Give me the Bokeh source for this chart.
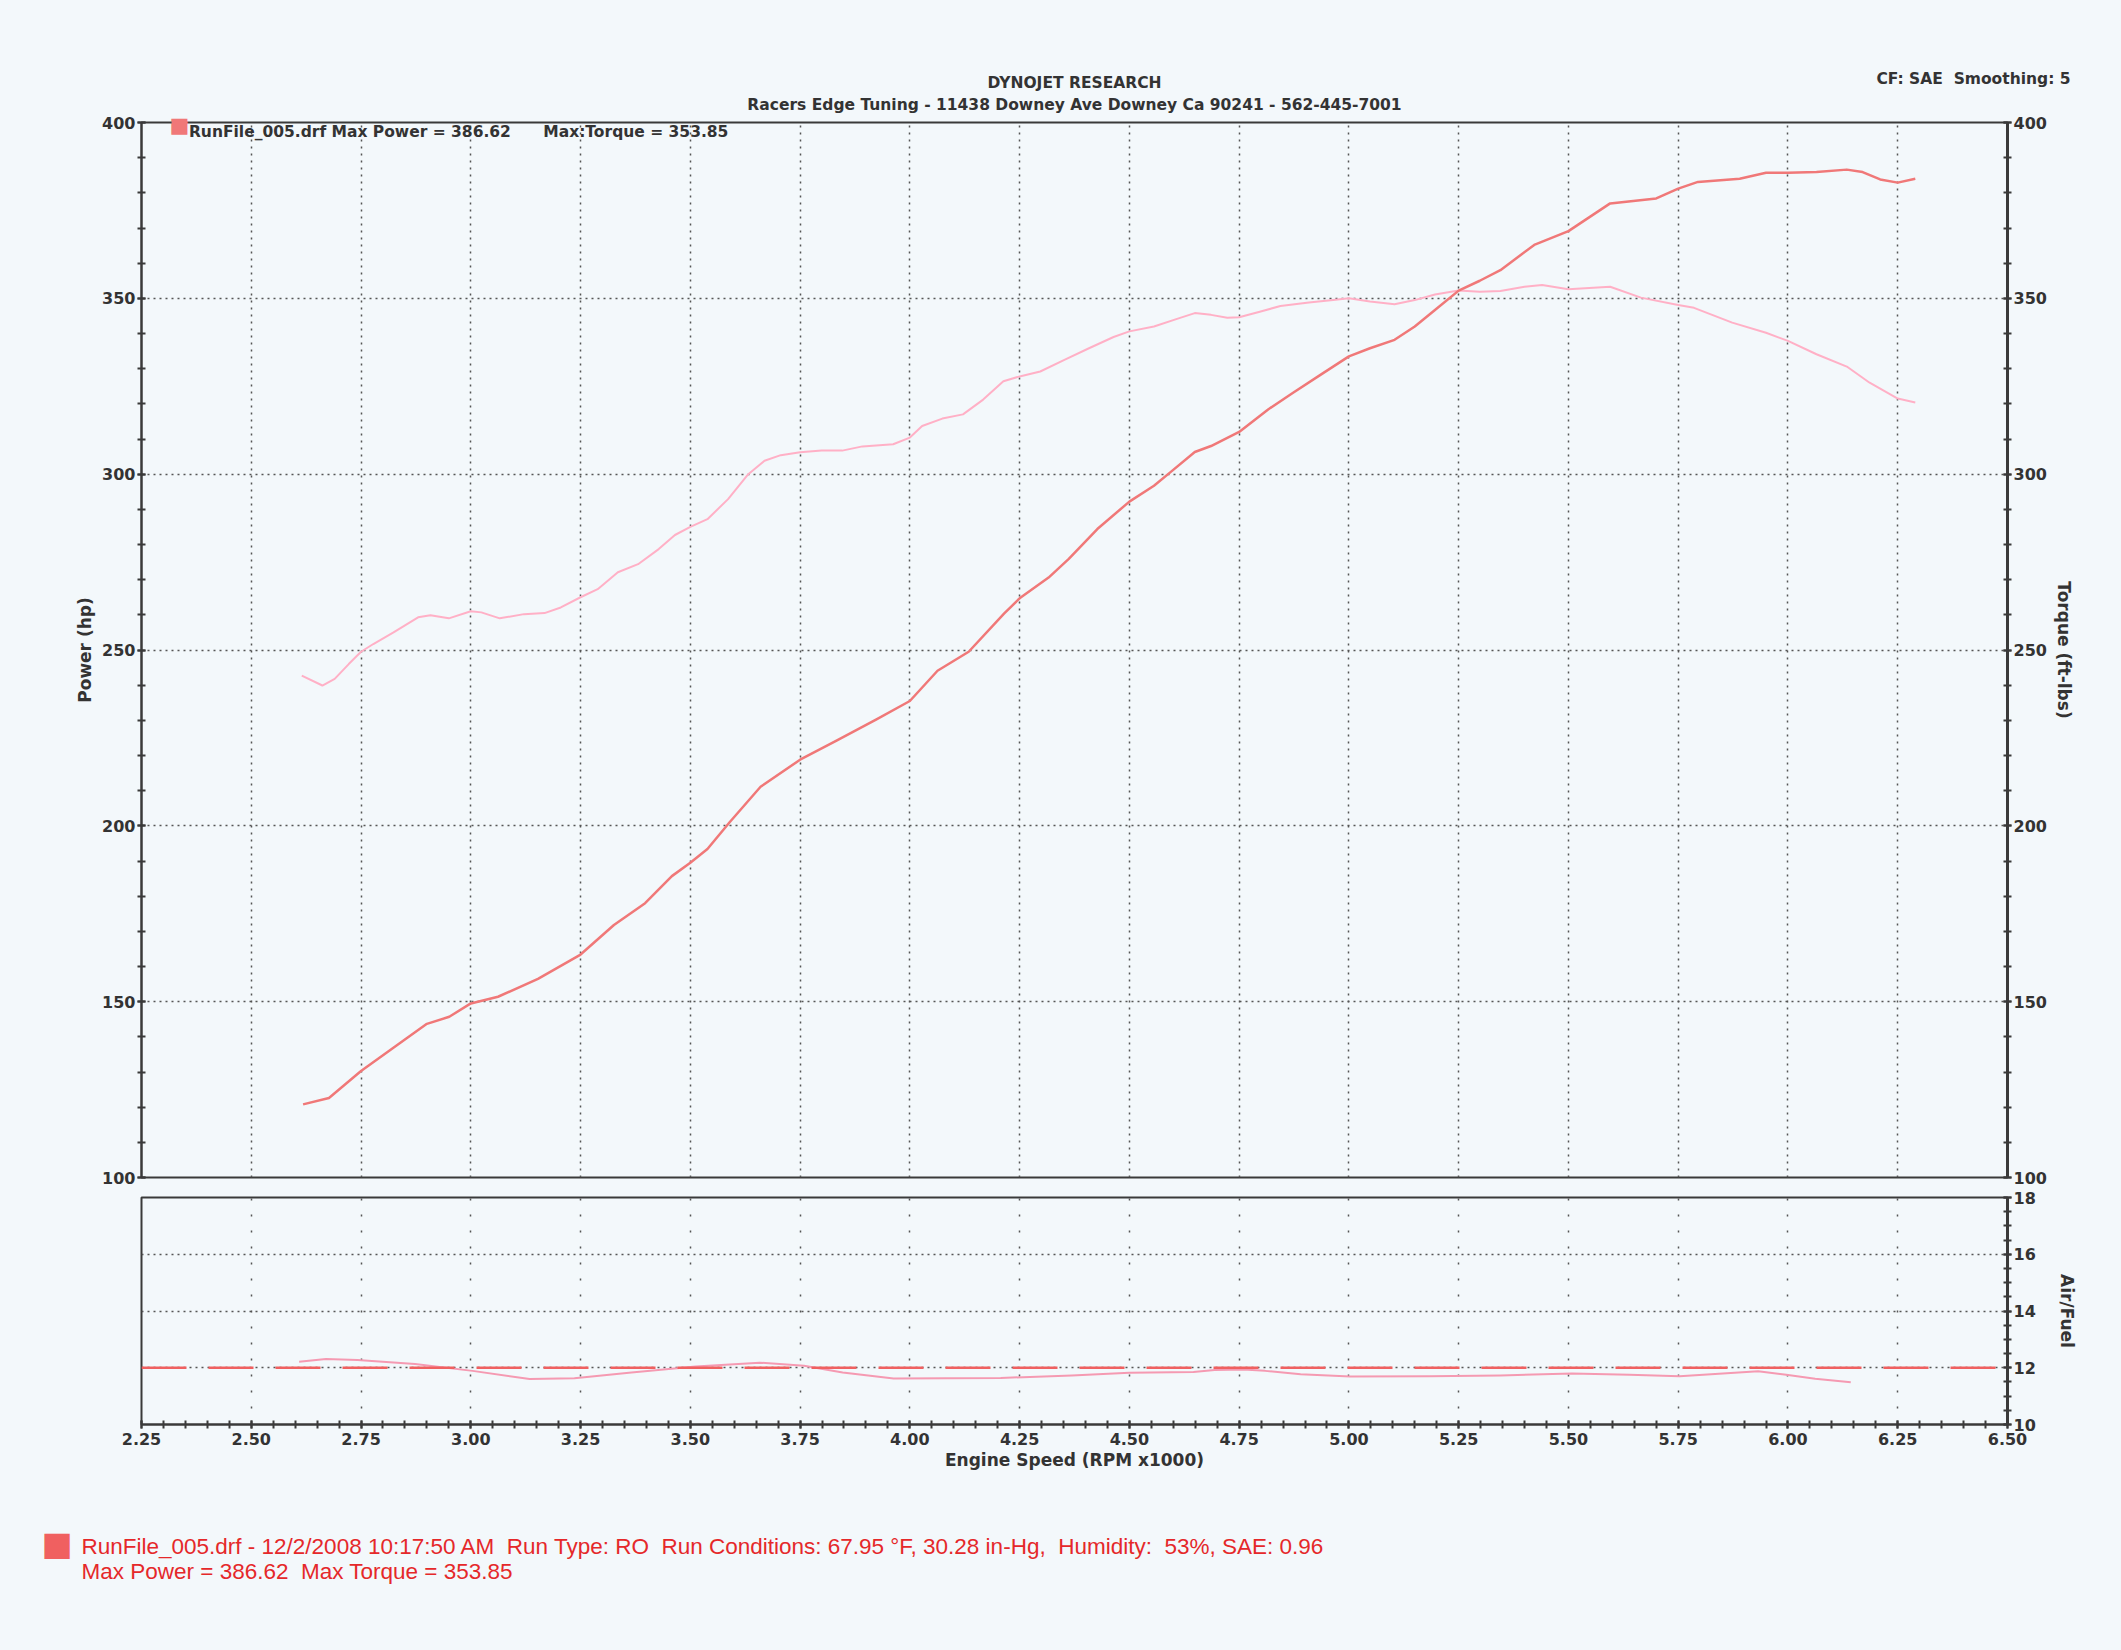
from bokeh.plotting import figure
from bokeh.models import (Range1d, LinearAxis, SingleIntervalTicker, Label, Span,
                          PrintfTickFormatter)
from bokeh.layouts import column
from bokeh.embed import file_html
from bokeh.resources import INLINE

# ---------------- data ----------------
power_rpm = [2.618, 2.677, 2.75, 2.819, 2.90, 2.951, 3.00, 3.062, 3.153, 3.25, 3.326, 3.397, 3.458, 3.50,
             3.539, 3.59, 3.66, 3.75, 3.833, 3.924, 4.00, 4.063, 4.134, 4.215, 4.25, 4.316, 4.362, 4.427,
             4.50, 4.556, 4.593, 4.649, 4.686, 4.75, 4.816, 4.872, 4.936, 5.00, 5.048, 5.104, 5.15, 5.196,
             5.25, 5.298, 5.345, 5.422, 5.50, 5.595, 5.70, 5.75, 5.795, 5.89, 5.95, 6.00, 6.065, 6.134,
             6.17, 6.21, 6.25, 6.29]
power_hp = [120.8, 122.6, 130.3, 136.5, 143.7, 145.7, 149.5, 151.4, 156.5, 163.4, 171.8, 178.0, 185.7, 189.5,
            193.4, 201.1, 211.1, 218.8, 224.2, 230.3, 235.5, 244.1, 249.5, 260.4, 264.7, 270.6, 275.9, 284.4,
            292.2, 296.7, 300.5, 306.3, 308.0, 312.0, 318.4, 323.1, 328.3, 333.5, 335.8, 338.2, 342.0, 346.7,
            352.2, 355.0, 358.0, 365.2, 369.1, 377.0, 378.4, 381.2, 383.1, 384.0, 385.7, 385.7, 385.9, 386.6,
            385.9, 383.8, 382.9, 384.0]

torque_rpm = [2.615, 2.662, 2.69, 2.722, 2.75, 2.778, 2.824, 2.88, 2.908, 2.95, 3.00, 3.024, 3.066, 3.121,
              3.168, 3.205, 3.25, 3.289, 3.335, 3.381, 3.428, 3.465, 3.50, 3.539, 3.586, 3.632, 3.669, 3.706,
              3.75, 3.799, 3.846, 3.892, 3.962, 4.00, 4.028, 4.074, 4.121, 4.167, 4.213, 4.25, 4.297, 4.352,
              4.408, 4.464, 4.50, 4.556, 4.612, 4.649, 4.686, 4.723, 4.75, 4.797, 4.844, 4.909, 4.964, 5.00,
              5.048, 5.104, 5.15, 5.196, 5.25, 5.298, 5.345, 5.40, 5.44, 5.50, 5.595, 5.665, 5.75, 5.786,
              5.873, 5.95, 6.00, 6.065, 6.134, 6.186, 6.25, 6.29]
torque_ftlb = [242.7, 239.9, 241.8, 246.0, 249.5, 251.7, 255.0, 259.3, 259.9, 259.0, 261.0, 260.7, 259.0, 260.2,
               260.5, 262.1, 265.0, 267.3, 272.1, 274.4, 278.7, 282.7, 285.0, 287.2, 292.9, 300.0, 303.8, 305.4,
               306.2, 306.7, 306.7, 307.9, 308.5, 310.4, 313.7, 315.8, 317.0, 321.2, 326.4, 327.8, 329.2, 332.5,
               335.8, 339.0, 340.6, 342.0, 344.3, 345.8, 345.3, 344.5, 344.6, 346.2, 347.8, 348.8, 349.5, 350.0,
               349.1, 348.3, 349.5, 351.1, 352.2, 351.9, 352.1, 353.3, 353.8, 352.6, 353.3, 350.2, 348.1, 347.3,
               343.1, 340.2, 337.9, 334.1, 330.6, 326.0, 321.5, 320.4]

afr_rpm = [2.609, 2.67, 2.742, 2.873, 3.004, 3.134, 3.236, 3.366, 3.512, 3.658, 3.759, 3.847, 3.963, 4.207,
           4.369, 4.50, 4.646, 4.694, 4.76, 4.809, 4.89, 5.003, 5.183, 5.345, 5.508, 5.639, 5.753, 5.834,
           5.932, 5.996, 6.062, 6.143]
afr_value = [12.21, 12.31, 12.27, 12.13, 11.89, 11.60, 11.63, 11.83, 12.04, 12.18, 12.07, 11.83, 11.62, 11.64,
             11.73, 11.82, 11.85, 11.92, 11.94, 11.89, 11.77, 11.69, 11.70, 11.73, 11.80, 11.75, 11.70, 11.78,
             11.88, 11.75, 11.61, 11.49]
afr_target = 12.0

NB = "\u00a0"
SWATCH = "\u25a0"
title_line1 = "DYNOJET RESEARCH"
title_line2 = "Racers Edge Tuning - 11438 Downey Ave Downey Ca 90241 - 562-445-7001"
corner_text = "CF: SAE" + NB + " Smoothing: 5"
legend_text = "RunFile_005.drf Max Power = 386.62" + NB * 5 + " Max:Torque = 353.85"
footer_line1 = ("RunFile_005.drf - 12/2/2008 10:17:50 AM" + NB + " Run Type: RO" + NB + " Run Conditions: 67.95 \u00b0F, "
                "30.28 in-Hg," + NB + " Humidity:" + NB + " 53%, SAE: 0.96")
footer_line2 = "Max Power = 386.62" + NB + " Max Torque = 353.85"

# ---------------- style ----------------
BG = "#f3f8fb"
FONT = "DejaVu Sans"
AX = "#3a3a3a"
TXT = "#333333"
GRID = "#555555"
POWER_C = "#f07878"
TORQUE_C = "#ffb0c6"
AFR_C = "#f59ab2"
RED = "#e5282a"
W = 2113
LB, RB = 141, 106

x_range = Range1d(2.25, 6.50)


def style_axis(ax):
    ax.axis_line_color = AX
    ax.axis_line_width = 2
    ax.major_tick_line_color = AX
    ax.minor_tick_line_color = AX
    ax.major_tick_line_width = 2
    ax.minor_tick_line_width = 2
    ax.major_tick_in = 4
    ax.major_tick_out = 4
    ax.minor_tick_in = 4
    ax.minor_tick_out = 4
    ax.major_label_text_font = FONT
    ax.major_label_text_font_style = "bold"
    ax.major_label_text_font_size = "16px"
    ax.major_label_text_color = TXT
    ax.major_label_standoff = 2
    ax.axis_label_text_font = FONT
    ax.axis_label_text_font_style = "bold"
    ax.axis_label_text_font_size = "17px"
    ax.axis_label_text_color = TXT


def hdr_label(x, y, text, align):
    return Label(x=x, y=y, text=text, text_align=align, text_baseline="middle",
                 text_font=FONT, text_font_style="bold", text_font_size="15.5px", text_color=TXT)


# ---------------- main figure ----------------
p1 = figure(width=W, height=1187, x_range=x_range, y_range=Range1d(100, 400),
            output_backend="svg", toolbar_location=None,
            min_border_left=LB, min_border_right=RB, min_border_top=122, min_border_bottom=10,
            background_fill_color=BG, border_fill_color=BG)
p1.extra_y_ranges = {"tq": Range1d(100, 400)}
p1.outline_line_color = AX
p1.outline_line_width = 2
p1.xaxis.visible = False

p1.yaxis.ticker = SingleIntervalTicker(interval=50, num_minor_ticks=5)
p1.yaxis.axis_label = "Power (hp)"
style_axis(p1.yaxis[0])
p1.yaxis.axis_label_standoff = 4

rax = LinearAxis(y_range_name="tq", ticker=SingleIntervalTicker(interval=50, num_minor_ticks=5),
                 axis_label="Torque (ft-lbs)")
style_axis(rax)
rax.axis_line_width = 3
rax.axis_label_standoff = 4
p1.add_layout(rax, "right")

p1.xgrid.ticker = SingleIntervalTicker(interval=0.25)
p1.xgrid.grid_line_color = GRID
p1.xgrid.grid_line_dash = "2 5"
p1.xgrid.grid_line_width = 1.5
p1.ygrid.grid_line_color = GRID
p1.ygrid.grid_line_dash = "2 4"
p1.ygrid.grid_line_width = 1.5

p1.line(torque_rpm, torque_ftlb, y_range_name="tq", line_color=TORQUE_C, line_width=2, line_join="round")
p1.line(power_rpm, power_hp, line_color=POWER_C, line_width=2.5, line_join="round")

# header texts (side panel, so they are not clipped to the frame)
p1.add_layout(hdr_label(4.375, 411.2, title_line1, "center"), "above")
p1.add_layout(hdr_label(4.375, 405.1, title_line2, "center"), "above")
p1.add_layout(hdr_label(6.6435, 412.4, corner_text, "right"), "above")

p1.add_layout(Label(x=2.358, y=397.4, text=legend_text, text_align="left", text_baseline="middle",
                    text_font=FONT, text_font_style="bold", text_font_size="15.5px", text_color=TXT))
p1.add_layout(Label(x=2.3366, y=399.15, text=SWATCH, text_align="center", text_baseline="middle",
                    text_font=FONT, text_font_size="21px", text_color=POWER_C), "above")

# ---------------- air/fuel figure ----------------
p2 = figure(width=W, height=413, x_range=x_range, y_range=Range1d(10, 18),
            output_backend="svg", toolbar_location=None, y_axis_location="right",
            min_border_left=LB, min_border_right=RB, min_border_top=10, min_border_bottom=176,
            background_fill_color=BG, border_fill_color=BG)
p2.outline_line_color = AX
p2.outline_line_width = 2

p2.xaxis.ticker = SingleIntervalTicker(interval=0.25, num_minor_ticks=5)
p2.xaxis.formatter = PrintfTickFormatter(format="%.2f")
p2.xaxis.axis_label = "Engine Speed (RPM x1000)"
style_axis(p2.xaxis[0])
p2.xaxis.major_label_standoff = 4
p2.xaxis.axis_label_standoff = 2

p2.yaxis.ticker = SingleIntervalTicker(interval=2, num_minor_ticks=4)
p2.yaxis.axis_label = "Air/Fuel"
style_axis(p2.yaxis[0])
p2.yaxis.axis_line_width = 3
p2.yaxis.axis_label_standoff = 18

p2.xgrid.ticker = SingleIntervalTicker(interval=0.25)
p2.xgrid.grid_line_color = GRID
p2.xgrid.grid_line_dash = "2 14"
p2.xgrid.grid_line_width = 1.5
p2.ygrid.grid_line_color = GRID
p2.ygrid.grid_line_dash = "2 4"
p2.ygrid.grid_line_width = 1.5

p2.add_layout(Span(location=afr_target, dimension="width", line_color="#f06060",
                   line_width=2.5, line_dash="45 22"))
p2.line(afr_rpm, afr_value, line_color=AFR_C, line_width=2, line_join="round")

# footer (side panel below)
p2.add_layout(Label(x=2.1133, y=5.70, text=footer_line1, text_align="left", text_baseline="middle",
                    text_font="Liberation Sans", text_font_size="22.5px", text_color=RED), "below")
p2.add_layout(Label(x=2.1133, y=4.82, text=footer_line2, text_align="left", text_baseline="middle",
                    text_font="Liberation Sans", text_font_size="22.5px", text_color=RED), "below")
p2.add_layout(Label(x=2.0575, y=5.80, text=SWATCH, text_align="center", text_baseline="middle",
                    text_font=FONT, text_font_size="33px", text_color="#f06060"), "below")

layout = column(p1, p2, spacing=0)

html = file_html(layout, INLINE, title="Dyno")
html = html.replace("<body>", '<body style="background:%s">' % BG)
open("out.html", "w").write(html)
